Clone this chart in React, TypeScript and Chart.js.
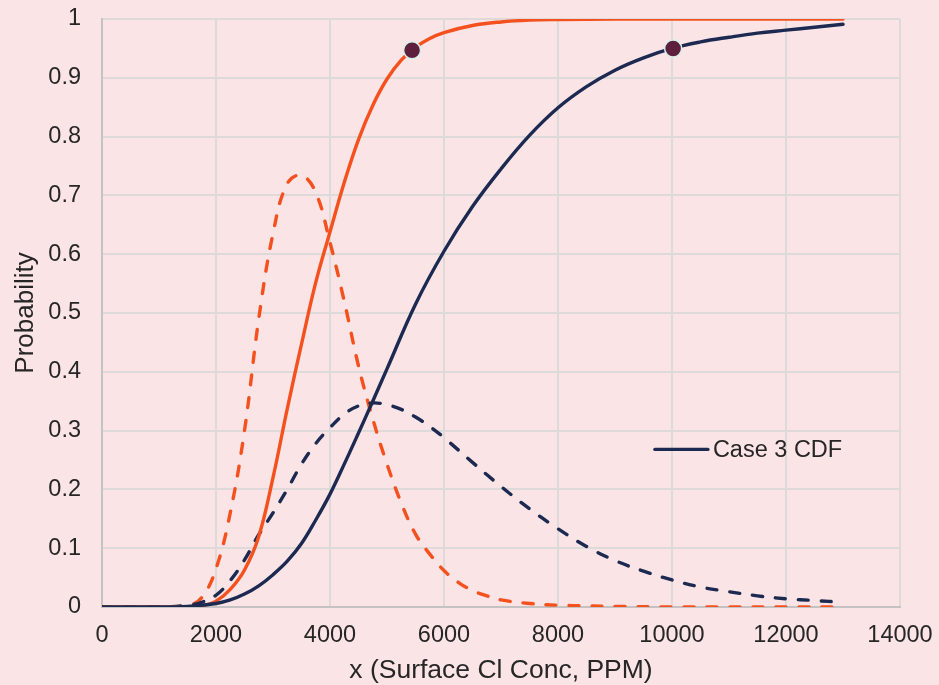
import React, { useEffect, useRef } from "react";
import { Chart, registerables } from "chart.js";

Chart.register(...registerables);

// ---- data ----
const case1PdfX = [0, 1000, 1500, 1750, 2000, 2250, 2500, 2750, 3000, 3250, 3500, 3750, 4000, 4250, 4500, 4750, 5000, 5250, 5500, 5750, 6000, 6250, 6500, 6750, 7000, 7500, 8000, 8500, 9000, 10000, 11000, 12000, 13000];
const case1PdfY = [0, 0, 0.002, 0.016, 0.065, 0.16, 0.3, 0.49, 0.635, 0.72, 0.734, 0.705, 0.62, 0.52, 0.41, 0.32, 0.243, 0.177, 0.124, 0.09, 0.062, 0.042, 0.028, 0.019, 0.012, 0.006, 0.003, 0.002, 0.001, 0, 0, 0, 0];

const case1CdfX = [0, 1000, 1500, 1750, 2000, 2250, 2500, 2750, 3000, 3250, 3500, 3750, 4000, 4250, 4500, 4750, 5000, 5250, 5500, 5750, 6000, 6500, 7000, 7500, 8000, 9000, 10000, 11000, 12000, 13000];
const case1CdfY = [0, 0, 0, 0.002, 0.01, 0.03, 0.063, 0.12, 0.22, 0.337, 0.447, 0.552, 0.638, 0.722, 0.795, 0.853, 0.898, 0.93, 0.952, 0.967, 0.977, 0.989, 0.995, 0.998, 0.999, 1, 1, 1, 1, 1];

const case3PdfX = [0, 1000, 1500, 1750, 2000, 2250, 2500, 2750, 3000, 3250, 3500, 3750, 4000, 4250, 4500, 4750, 5000, 5250, 5500, 5750, 6000, 6500, 7000, 7500, 8000, 8500, 9000, 9500, 10000, 10500, 11000, 11500, 12000, 12500, 13000];
const case3PdfY = [0, 0, 0.003, 0.008, 0.02, 0.045, 0.08, 0.123, 0.16, 0.2, 0.243, 0.278, 0.305, 0.328, 0.342, 0.347, 0.344, 0.336, 0.323, 0.307, 0.288, 0.246, 0.205, 0.167, 0.133, 0.103, 0.079, 0.061, 0.046, 0.034, 0.026, 0.019, 0.014, 0.011, 0.008];

const case3CdfX = [0, 1000, 1500, 2000, 2250, 2500, 2750, 3000, 3250, 3500, 3750, 4000, 4250, 4500, 4750, 5000, 5500, 6000, 6500, 7000, 7500, 8000, 8500, 9000, 9500, 10000, 10500, 11000, 11500, 12000, 12500, 13000];
const case3CdfY = [0, 0, 0.001, 0.006, 0.012, 0.022, 0.036, 0.055, 0.078, 0.108, 0.148, 0.192, 0.243, 0.296, 0.35, 0.405, 0.515, 0.605, 0.681, 0.745, 0.802, 0.849, 0.885, 0.913, 0.934, 0.95, 0.961, 0.969, 0.976, 0.981, 0.986, 0.991];

const markerX = [5440, 10020];
const markerY = [0.947, 0.95];

const xTickLabels = ["0", "2000", "4000", "6000", "8000", "10000", "12000", "14000"];
const yTickLabels = ["0", "0.1", "0.2", "0.3", "0.4", "0.5", "0.6", "0.7", "0.8", "0.9", "1"];

const legendLabel = "Case 3 CDF";
const xTitle = "x (Surface Cl Conc, PPM)";
const yTitle = "Probability";

// ---- styling ----
const BG = "#FBE4E5";
const ORANGE = "#F4511E";
const NAVY = "#1C2A52";
const GRID = "#DEDADA";
const AXIS = "#C4C2C2";
const TEXT = "#262626";
const FONT = "'Liberation Sans', Arial, sans-serif";
const LW = 3.4;
const DASH = [10, 13];

const toPts = (xs: number[], ys: number[]) => xs.map((x, i) => ({ x, y: ys[i] }));

export default function App() {
  const ref = useRef<HTMLCanvasElement | null>(null);

  useEffect(() => {
    document.body.style.margin = "0";
    document.body.style.background = BG;
    const canvas = ref.current;
    if (!canvas) return;

    const bgPlugin = {
      id: "bg",
      beforeDraw(chart: any) {
        const { ctx, width, height } = chart;
        ctx.save();
        ctx.fillStyle = BG;
        ctx.fillRect(0, 0, width, height);
        ctx.restore();
      },
    };

    const legendPlugin = {
      id: "insideLegend",
      afterDatasetsDraw(chart: any) {
        const { ctx, scales } = chart;
        const x0 = scales.x.getPixelForValue(9700);
        const y0 = scales.y.getPixelForValue(0.268);
        ctx.save();
        ctx.strokeStyle = NAVY;
        ctx.lineWidth = LW;
        ctx.lineCap = "round";
        ctx.beginPath();
        ctx.moveTo(x0, y0);
        ctx.lineTo(x0 + 53, y0);
        ctx.stroke();
        ctx.fillStyle = TEXT;
        ctx.font = `23.5px ${FONT}`;
        ctx.textBaseline = "middle";
        ctx.textAlign = "left";
        ctx.fillText(legendLabel, x0 + 58, y0 + 1);
        ctx.restore();
      },
    };

    const lineDs = (label: string, xs: number[], ys: number[], color: string, dashed: boolean, order: number) => ({
      label,
      data: toPts(xs, ys),
      showLine: true,
      borderColor: color,
      borderWidth: LW,
      borderDash: dashed ? DASH : [],
      borderCapStyle: "round",
      pointRadius: 0,
      pointHoverRadius: 0,
      tension: 0.4,
      order,
    });

    const zeroPad = (scale: any) => {
      scale.paddingTop = 0;
      scale.paddingBottom = 0;
      scale.paddingLeft = 0;
      scale.paddingRight = 0;
    };

    const chart = new Chart(canvas, {
      type: "scatter",
      data: {
        datasets: [
          {
            label: "Markers",
            data: toPts(markerX, markerY),
            showLine: false,
            pointRadius: 8.5,
            pointHoverRadius: 8.5,
            pointBackgroundColor: "#5E1F3D",
            pointBorderColor: "#D6F0EA",
            pointBorderWidth: 1.5,
            order: 0,
          },
          lineDs("Case 3 CDF", case3CdfX, case3CdfY, NAVY, false, 1),
          lineDs("Case 1 CDF", case1CdfX, case1CdfY, ORANGE, false, 2),
          lineDs("Case 3 PDF", case3PdfX, case3PdfY, NAVY, true, 3),
          lineDs("Case 1 PDF", case1PdfX, case1PdfY, ORANGE, true, 4),
        ],
      },
      options: {
        responsive: false,
        animation: false,
        layout: { padding: { top: 19, right: 39, left: 0, bottom: 0 } },
        plugins: {
          legend: { display: false },
          tooltip: { enabled: false },
        },
        scales: {
          x: {
            type: "linear",
            min: 0,
            max: 14000,
            afterFit(scale: any) {
              scale.height = 78;
              zeroPad(scale);
            },
            ticks: {
              stepSize: 2000,
              color: TEXT,
              font: { family: FONT, size: 23.5 },
              padding: 14,
              maxRotation: 0,
              callback: (v: any) => xTickLabels[Math.round(Number(v) / 2000)] ?? "",
            },
            grid: { color: GRID, lineWidth: 2, drawTicks: false },
            border: { color: AXIS, width: 2 },
            title: {
              display: true,
              text: xTitle,
              color: TEXT,
              font: { family: FONT, size: 26.5, lineHeight: 1 },
              padding: { top: 0, bottom: 1 },
            },
          },
          y: {
            type: "linear",
            min: 0,
            max: 1,
            afterFit(scale: any) {
              scale.width = 102;
              zeroPad(scale);
            },
            ticks: {
              stepSize: 0.1,
              color: TEXT,
              font: { family: FONT, size: 23.5 },
              padding: 21,
              callback: (v: any) => yTickLabels[Math.round(Number(v) * 10)] ?? "",
            },
            grid: { color: GRID, lineWidth: 2, drawTicks: false },
            border: { color: AXIS, width: 2 },
            title: {
              display: true,
              text: yTitle,
              color: TEXT,
              font: { family: FONT, size: 26, lineHeight: 1 },
              padding: { top: 12.5, bottom: 0 },
            },
          },
        },
      },
      plugins: [bgPlugin, legendPlugin],
    });

    return () => chart.destroy();
  }, []);

  return (
    <div style={{ position: "fixed", left: 0, top: 0, width: 939, height: 685, background: BG }}>
      <canvas ref={ref} width={939} height={685} style={{ width: 939, height: 685, display: "block" }} />
    </div>
  );
}
